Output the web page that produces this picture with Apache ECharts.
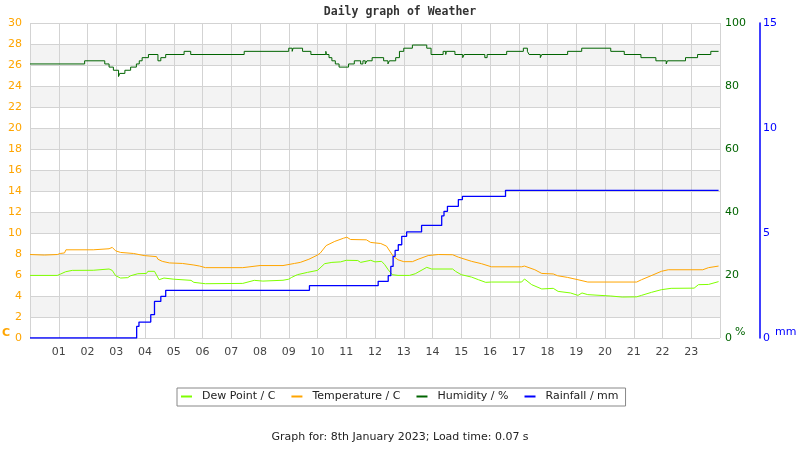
<!DOCTYPE html>
<html>
<head>
<meta charset="utf-8">
<script src="https://cdn.jsdelivr.net/npm/echarts@6/dist/echarts.min.js"></script>
<style>html,body{margin:0;padding:0;background:#fff;}#chart{width:800px;height:450px;}</style>
</head>
<body>
<div id="chart"></div>
<script>
const seriesNames = ['Dew Point / C', 'Temperature / C', 'Humidity / %', 'Rainfall / mm'];
const hourLabels = ['01','02','03','04','05','06','07','08','09','10','11','12','13','14','15','16','17','18','19','20','21','22','23'];

const tempHours = [0,0.5,0.95,1.05,1.2,1.25,2.2,2.25,2.75,2.86,2.98,3.15,3.6,3.65,3.97,4.4,4.45,4.6,4.85,5.3,5.35,5.7,5.9,6.1,7.4,7.45,8.0,8.8,8.85,9.2,9.4,9.7,10.0,10.1,10.3,10.6,10.9,11.02,11.15,11.7,11.85,12.2,12.4,12.52,12.63,12.8,13.0,13.3,13.5,13.85,14.2,14.7,14.9,15.36,15.7,16.05,17.1,17.2,17.56,17.8,18.2,18.35,18.7,19.06,19.4,21.1,21.27,21.6,21.96,22.2,23.4,23.6,23.95];
const tempC = [7.95,7.9,7.95,8.05,8.1,8.4,8.4,8.5,8.5,8.63,8.3,8.15,8.05,7.9,7.85,7.75,7.5,7.3,7.15,7.1,7.0,6.95,6.85,6.7,6.7,6.8,6.9,6.9,6.98,7.1,7.2,7.5,7.9,8.1,8.8,9.2,9.5,9.6,9.38,9.35,9.1,9.0,8.75,8.25,7.8,7.45,7.27,7.27,7.5,7.85,7.95,7.93,7.7,7.3,7.08,6.78,6.78,6.85,6.5,6.15,6.1,5.93,5.77,5.55,5.33,5.33,5.55,5.93,6.35,6.5,6.5,6.7,6.85];

const dewHours = [0,0.95,1.07,1.24,1.47,2.2,2.25,2.75,2.86,2.98,3.15,3.4,3.5,3.75,4.05,4.1,4.33,4.49,4.66,5.0,5.05,5.6,5.7,6.1,7.4,7.45,7.8,8.1,8.8,9.0,9.1,9.3,9.65,10.0,10.25,10.5,10.8,11.0,11.4,11.5,11.85,12.0,12.23,12.34,12.46,12.6,12.8,13.2,13.4,13.8,13.97,14.7,14.8,15.0,15.36,15.6,15.85,16.05,17.1,17.2,17.45,17.8,18.2,18.37,18.8,19.06,19.2,19.4,20.2,20.6,21.1,21.27,21.62,21.96,22.3,23.1,23.25,23.6,23.95];
const dewC = [5.96,5.96,6.1,6.31,6.44,6.45,6.57,6.57,6.44,5.93,5.71,5.75,5.93,6.12,6.15,6.35,6.35,5.55,5.71,5.6,5.49,5.49,5.3,5.17,5.2,5.39,5.49,5.42,5.5,5.6,5.77,6.03,6.25,6.44,7.08,7.2,7.25,7.4,7.38,7.2,7.4,7.25,7.3,6.98,6.5,6.03,5.96,5.96,6.12,6.73,6.57,6.57,6.35,6.03,5.8,5.55,5.3,5.33,5.33,5.62,5.08,4.67,4.73,4.44,4.29,4.06,4.29,4.13,4.0,3.9,3.92,4.06,4.35,4.6,4.73,4.75,5.08,5.1,5.37];

const humHours = [0,1.9,2.6,2.75,2.9,3.08,3.12,3.3,3.5,3.7,3.8,3.9,4.12,4.45,4.55,4.72,5.36,5.59,7.45,9.0,9.12,9.15,9.48,9.77,10.29,10.31,10.4,10.5,10.62,10.75,11.08,11.28,11.5,11.58,11.66,11.72,11.9,12.3,12.45,12.5,12.72,12.85,13.0,13.3,13.8,13.95,14.37,14.46,14.48,14.78,15.05,15.1,15.82,15.9,16.58,17.16,17.3,17.36,17.75,17.8,18.7,19.19,20.2,20.67,21.25,21.77,22.13,22.17,22.8,23.22,23.68,23.95];
const humPct = [87,88,87,86,85,83,84,85,86,87,88,89,90,88,89,90,91,90,91,92,91,92,91,90,91,90,89,88,87,86,87,88,87,88,87,88,89,88,87,88,89,91,92,93,92,90,91,90,91,90,89,90,89,90,91,92,91,90,89,90,91,92,91,90,89,88,87,88,89,90,91,91];

const rainHours = [0,3.71,3.79,4.2,4.33,4.55,4.72,9.72,12.11,12.46,12.55,12.63,12.7,12.81,12.93,13.1,13.62,14.32,14.4,14.52,14.9,15.04,16.54,23.95];
const rainMm = [0,0.55,0.76,1.11,1.74,1.98,2.27,2.49,2.7,2.97,3.41,3.89,4.17,4.44,4.84,5.05,5.36,5.82,6.03,6.27,6.59,6.74,7.03,7.03];

const titleText = 'Daily graph of Weather';
const footerText = 'Graph for: 8th January 2023; Load time: 0.07 s';

function zip(a, b) { return a.map((v, i) => [v, b[i]]); }

const FONT = 'DejaVu Sans';
const chart = echarts.init(document.getElementById('chart'), null, {renderer: 'canvas'});
chart.setOption({
  animation: false,
  backgroundColor: '#ffffff',
  title: {
    text: titleText, left: 'center', top: 6, padding: 0,
    textStyle: {fontFamily: 'DejaVu Sans Mono', fontWeight: 'bold', fontSize: 11.5, color: '#333'}
  },
  grid: {left: 30, right: 80, top: 23, bottom: 112, containLabel: false},
  legend: {
    data: seriesNames, left: 177, top: 388, padding: [3, 7, 4, 4],
    borderColor: '#888', borderWidth: 1, itemGap: 16, itemWidth: 11, itemHeight: 2, icon: 'rect',
    textStyle: {fontFamily: FONT, fontSize: 11, color: '#222', padding: [0, 0, 0, 5]}
  },
  xAxis: {
    type: 'value', min: 0, max: 24, interval: 1,
    axisLine: {show: false}, axisTick: {show: false},
    splitLine: {show: true, lineStyle: {color: '#d3d3d3', width: 1}},
    axisLabel: {
      color: '#444', fontFamily: FONT, fontSize: 11, margin: 9,
      formatter: v => (v >= 1 && v <= 23) ? hourLabels[v - 1] : ''
    }
  },
  yAxis: [
    {
      type: 'value', min: 0, max: 30, interval: 2, position: 'left',
      axisLine: {show: false}, axisTick: {show: false},
      axisLabel: {color: '#ffa500', fontFamily: FONT, fontSize: 11, margin: 8},
      splitLine: {show: true, lineStyle: {color: '#d3d3d3', width: 1}},
      splitArea: {show: true, areaStyle: {color: ['#ffffff', '#f3f3f3']}}
    },
    {
      type: 'value', min: 0, max: 100, interval: 20, position: 'right',
      axisLine: {show: false}, axisTick: {show: false}, splitLine: {show: false},
      axisLabel: {color: '#006400', fontFamily: FONT, fontSize: 11, margin: 5}
    },
    {
      type: 'value', min: 0, max: 15, interval: 5, position: 'right', offset: 40,
      axisLine: {show: true, lineStyle: {color: '#0000ff', width: 1.5}}, axisTick: {show: false}, splitLine: {show: false},
      axisLabel: {color: '#0000ff', fontFamily: FONT, fontSize: 11, margin: 3}
    }
  ],
  graphic: [
    {type: 'text', left: 2, top: 328, style: {text: 'C', fill: '#ffa500', font: 'bold 11px "DejaVu Sans"'}},
    {type: 'text', left: 735, top: 327, style: {text: '%', fill: '#006400', font: '11px "DejaVu Sans"'}},
    {type: 'text', left: 775, top: 327, style: {text: 'mm', fill: '#0000ff', font: '11px "DejaVu Sans"'}},
    {type: 'text', left: 'center', top: 432, style: {text: footerText, fill: '#222', font: '11px "DejaVu Sans"'}}
  ],
  series: [
    {name: seriesNames[0], type: 'line', yAxisIndex: 0, data: zip(dewHours, dewC), showSymbol: false, silent: true,
     lineStyle: {color: '#7fff00', width: 1}, itemStyle: {color: '#7fff00'}},
    {name: seriesNames[1], type: 'line', yAxisIndex: 0, data: zip(tempHours, tempC), showSymbol: false, silent: true,
     lineStyle: {color: '#ffa500', width: 1}, itemStyle: {color: '#ffa500'}},
    {name: seriesNames[2], type: 'line', yAxisIndex: 1, step: 'end', data: zip(humHours, humPct), showSymbol: false, silent: true,
     lineStyle: {color: '#006400', width: 1}, itemStyle: {color: '#006400'}},
    {name: seriesNames[3], type: 'line', yAxisIndex: 2, step: 'end', data: zip(rainHours, rainMm), showSymbol: false, silent: true,
     lineStyle: {color: '#0000ff', width: 1.3}, itemStyle: {color: '#0000ff'}}
  ]
});
</script>
</body>
</html>
